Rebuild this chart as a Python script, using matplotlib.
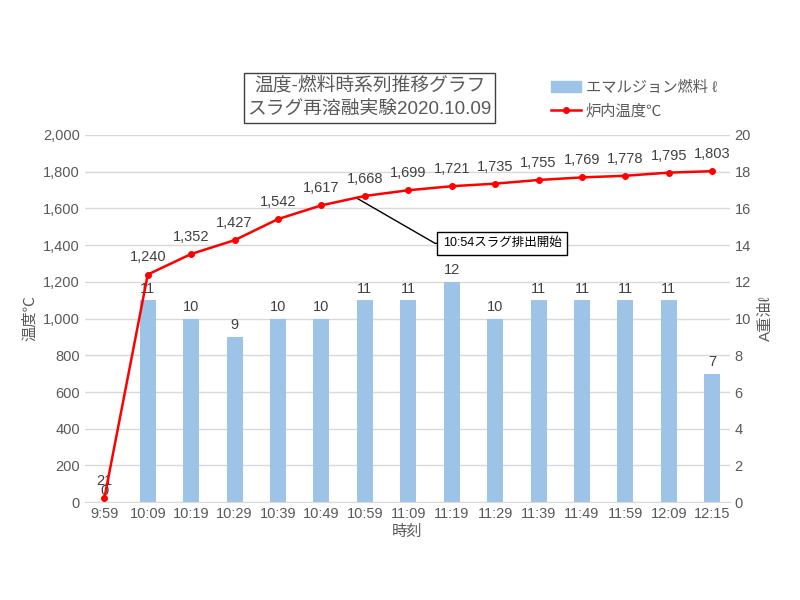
import matplotlib
matplotlib.use('Agg')
import matplotlib.pyplot as plt
from matplotlib.patches import Patch
from matplotlib.lines import Line2D
import numpy as np

plt.rcParams['font.family'] = ['Liberation Sans', 'Noto Sans CJK JP', 'DejaVu Sans']

#data
times = ['9:59', '10:09', '10:19', '10:29', '10:39', '10:49', '10:59', '11:09',
         '11:19', '11:29', '11:39', '11:49', '11:59', '12:09', '12:15']
temp = [21, 1240, 1352, 1427, 1542, 1617, 1668, 1699, 1721, 1735, 1755, 1769, 1778, 1795, 1803]
fuel = [0, 11, 10, 9, 10, 10, 11, 11, 12, 10, 11, 11, 11, 11, 7]

txt = '#595959'
x = np.arange(len(times))

fig = plt.figure(figsize=(8, 6), dpi=100)
ax = fig.add_axes([0.106, 0.163, 0.806, 0.612])
ax2 = ax.twinx()

#bars on secondary axis
ax2.bar(x, fuel, width=0.37, color='#9DC3E6', zorder=2)
for i, v in enumerate(fuel):
    ax2.text(x[i], v + 0.25, str(v), ha='center', va='bottom', fontsize=10.5, color='#404040')

#line on primary axis
ax.plot(x, temp, color='red', lw=1.8, marker='o', ms=4, zorder=5)
ax.set_zorder(ax2.get_zorder() + 1)
ax.patch.set_visible(False)
for i, v in enumerate(temp):
    ax.text(x[i], v + 55, f'{v:,}', ha='center', va='bottom', fontsize=10.5, color='#404040')

ax.set_ylim(0, 2000)
ax.set_yticks(range(0, 2001, 200))
ax.set_yticklabels([f'{t:,}' for t in range(0, 2001, 200)])
ax2.set_ylim(0, 20)
ax2.set_yticks(range(0, 21, 2))
ax.set_xlim(-0.45, len(times) - 0.6)
ax.set_xticks(x)
ax.set_xticklabels(times)

for a in (ax, ax2):
    for s in a.spines.values():
        s.set_visible(False)
    a.tick_params(length=0, colors=txt, labelsize=10.5)
ax.spines['bottom'].set_visible(True)
ax.spines['bottom'].set_color('#D9D9D9')
ax2.yaxis.grid(True, color='#D9D9D9', lw=1)
ax2.set_axisbelow(True)

ax.set_xlabel('時刻', color=txt, fontsize=11, labelpad=3)
ax.set_ylabel('温度℃', color=txt, fontsize=11, labelpad=4)
ax2.set_ylabel('A重油ℓ', color=txt, fontsize=11, labelpad=6)

#annotation
ax.annotate('10:54スラグ排出開始', xy=(x[6] - 0.2, temp[6] - 10), xytext=(7.8, 1410),
            fontsize=9, color='black', va='center',
            bbox=dict(boxstyle='square,pad=0.45', fc='white', ec='black', lw=1),
            arrowprops=dict(arrowstyle='-', color='black', lw=1, shrinkA=0, shrinkB=0,
                            connectionstyle='angle,angleA=0,angleB=-30,rad=0'))

#title box
fig.text(0.462, 0.837, '温度-燃料時系列推移グラフ\nスラグ再溶融実験2020.10.09', ha='center', va='center',
         fontsize=13.5, color=txt, linespacing=1.55,
         bbox=dict(boxstyle='square,pad=0.2', fc='white', ec='#404040', lw=1))

handles = [Patch(color='#9DC3E6'),
           Line2D([], [], color='red', lw=1.8, marker='o', ms=4)]
ax.legend(handles, ['エマルジョン燃料 ℓ', '炉内温度℃'], loc='upper left',
          bbox_to_anchor=(0.713, 1.165), frameon=False, fontsize=11,
          labelcolor=txt, handlelength=2.0, handleheight=0.8, handletextpad=0.3,
          borderaxespad=0, labelspacing=0.6)

fig.savefig('out.png', dpi=100)
